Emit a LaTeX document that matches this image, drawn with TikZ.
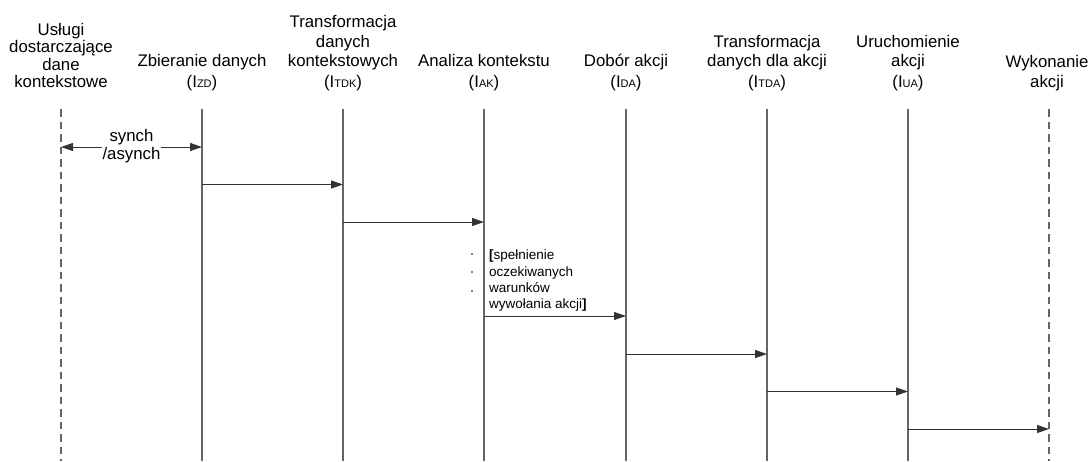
\documentclass[tikz,border=0pt]{standalone}
\usepackage{fontspec}
\setmainfont{Liberation Sans}
\usetikzlibrary{arrows.meta}
% index of a lifeline, e.g. (I_ZD) with a small subscript
\newcommand\lidx[1]{(I{\fontsize{11}{11}\selectfont #1})}

\begin{document}
\begin{tikzpicture}[x=1pt,y=-1pt,
  hdr/.style={font=\fontsize{16.8}{19.5}\selectfont, align=center,
              inner sep=0pt, anchor=south, text depth=0pt},
  subidx/.style={font=\fontsize{16.8}{19.5}\selectfont, inner sep=0pt, anchor=base},
  life/.style={draw=black!60, line width=1.1pt},
  envlife/.style={life, dash pattern=on 7.5pt off 5pt},
  msg/.style={draw=black!80, line width=0.9pt, -{Triangle[length=12pt,width=8pt]}},
  dmsg/.style={msg, {Triangle[length=12pt,width=8pt]}-{Triangle[length=12pt,width=8pt]}},
  guard/.style={font=\fontsize{13.5}{16.2}\selectfont, align=left, inner sep=0pt, anchor=north west},
  lbl/.style={font=\fontsize{16.8}{18}\selectfont, align=center, inner sep=1pt, fill=white},
]
\useasboundingbox (0,0) rectangle (1091,461);

% headers of the lifelines: the last name line sits at 67, the index at 87.5
\node[hdr, font=\fontsize{16.8}{17.3}\selectfont] (h0) at (61,87.5) {Usługi\\dostarczające\\dane\\kontekstowe};
\node[hdr] (h1) at (202,67) {Zbieranie danych};
\node[subidx] (s1) at (202,87.5) {\lidx{ZD}};
\node[hdr] (h2) at (343,67) {Transformacja\\danych\\kontekstowych};
\node[subidx] (s2) at (343,87.5) {\lidx{TDK}};
\node[hdr] (h3) at (484,67) {Analiza kontekstu};
\node[subidx] (s3) at (484,87.5) {\lidx{AK}};
\node[hdr] (h4) at (626,67) {Dobór akcji};
\node[subidx] (s4) at (626,87.5) {\lidx{DA}};
\node[hdr] (h5) at (767,67) {Transformacja\\danych dla akcji};
\node[subidx] (s5) at (767,87.5) {\lidx{TDA}};
\node[hdr] (h6) at (908,67) {Uruchomienie\\akcji};
\node[subidx] (s6) at (908,87.5) {\lidx{UA}};
\node[hdr] (h7) at (1047,87.5) {Wykonanie\\akcji};

% lifeline ends
\foreach \i/\x in {0/61,1/202,2/343,3/484,4/626,5/767,6/908,7/1049} {
  \coordinate (L\i t) at (\x,109);
  \coordinate (L\i b) at (\x,461);
}
\draw[envlife] (L0t) -- (L0b);
\draw[envlife] (L7t) -- (L7b);
\foreach \i in {1,...,6} { \draw[life] (L\i t) -- (L\i b); }

% message end points on the lifelines
\coordinate (m1a) at (61,147);   \coordinate (m1b) at (202,147);
\coordinate (m2a) at (202,184.5); \coordinate (m2b) at (343,184.5);
\coordinate (m3a) at (343,222);  \coordinate (m3b) at (484,222);
\coordinate (m4a) at (484,316);  \coordinate (m4b) at (626,316);
\coordinate (m5a) at (626,354);  \coordinate (m5b) at (767,354);
\coordinate (m6a) at (767,391.5); \coordinate (m6b) at (908,391.5);
\coordinate (m7a) at (908,429);  \coordinate (m7b) at (1049,429);

% messages
\draw[dmsg] (m1a) -- (m1b);
\node[lbl] (syn) at (131.5,146) {synch\\/asynch};
\draw[msg] (m2a) -- (m2b);
\draw[msg] (m3a) -- (m3b);
\draw[msg] (m4a) -- (m4b);
\draw[msg] (m5a) -- (m5b);
\draw[msg] (m6a) -- (m6b);
\draw[msg] (m7a) -- (m7b);

% guard condition of the action selection
\node[guard] (g) at (489,250) {\textbf{[}spełnienie\\oczekiwanych\\warunków\\wywołania akcji\textbf{]}};
\foreach \y in {254,272,291} { \fill (472,\y) circle (0.9pt); }
\end{tikzpicture}
\end{document}
